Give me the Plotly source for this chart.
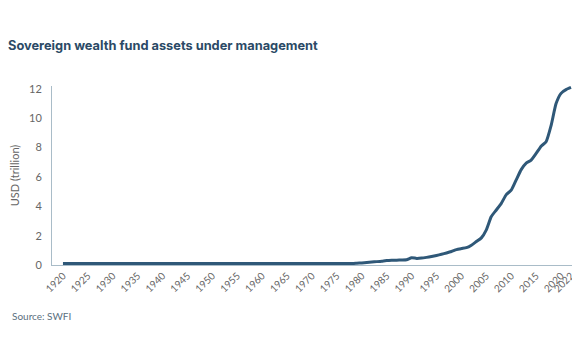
import plotly.graph_objects as go

years = list(range(1920, 2023))
early_years_value = 0.1
values_1979_2022 = [
    0.12, 0.14, 0.17, 0.20, 0.23, 0.26, 0.30, 0.32, 0.33, 0.34,  # 1979-1988
    0.36, 0.50, 0.45, 0.47, 0.52, 0.58, 0.65, 0.73, 0.82, 0.92,  # 1989-1998
    1.05, 1.12, 1.18, 1.35, 1.60, 1.85, 2.40, 3.30, 3.75, 4.20,  # 1999-2008
    4.80, 5.10, 5.80, 6.50, 6.95, 7.15, 7.60, 8.10, 8.40, 9.50,  # 2009-2018
    11.0, 11.7, 11.95, 12.1,                                     # 2019-2022
]
values = [early_years_value] * (1979 - 1920) + values_1979_2022

tick_years = list(range(1920, 2021, 5)) + [2022]
tick_labels = [str(y) for y in tick_years]
y_ticks = [0, 2, 4, 6, 8, 10, 12]

title_text = "Sovereign wealth fund assets under management"
y_title = "USD (trillion)"
source_text = "Source: SWFI"

line_color = "#2f5878"
axis_color = "#a9bcc8"
tick_color = "#666666"

fig = go.Figure()
fig.add_trace(go.Scatter(
    x=years, y=values, mode="lines",
    line=dict(color=line_color, width=3, shape="spline", smoothing=0.5),
    hoverinfo="x+y", showlegend=False,
))

# page body has an 8px default margin, so the figure is 8px smaller than the window
fig.update_layout(
    width=572, height=350,
    margin=dict(l=44, r=7, t=78, b=93),
    paper_bgcolor="white", plot_bgcolor="white",
    title=dict(text=title_text, x=0.0, xanchor="left",
               y=0.894, yanchor="middle",
               font=dict(family="Inter", size=12.8, color="#2b4a66", weight=700)),
    xaxis=dict(
        range=[1917.8, 2022.4], tickmode="array", tickvals=tick_years,
        ticktext=tick_labels, tickangle=-45, showgrid=False, zeroline=False,
        showline=True, linecolor=axis_color, linewidth=1, ticks="",
        automargin=False,
        tickfont=dict(family="Lato", size=10, color=tick_color),
    ),
    yaxis=dict(
        range=[0, 12.2], tickmode="array", tickvals=y_ticks, showgrid=False,
        zeroline=False, showline=True, linecolor=axis_color, linewidth=1,
        ticks="", ticklabelstandoff=7, automargin=False,
        tickfont=dict(family="Lato", size=11, color=tick_color),
        title=dict(text=y_title, standoff=9,
                   font=dict(family="Lato", size=11, color=tick_color)),
    ),
    annotations=[dict(
        text=source_text, xref="paper", yref="paper", x=-0.081, y=-0.285,
        xanchor="left", yanchor="middle", showarrow=False,
        font=dict(family="Lato", size=10, color="#5b6f80"),
    )],
)

fig.write_html("out.html")
